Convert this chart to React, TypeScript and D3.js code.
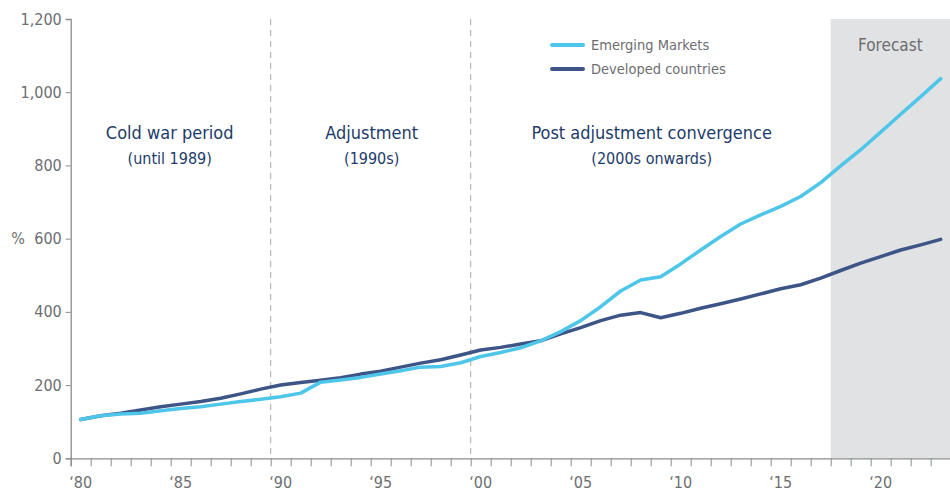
import { useEffect, useRef } from 'react';
import * as d3 from 'd3';

// values (index 100 = 1980)
const years = d3.range(1980, 2024);
const emerging = [
  106, 116, 121, 123, 130, 136, 141, 148, 155, 161,
  168, 178, 208, 214, 221, 230, 239, 249, 251, 261,
  278, 289, 302, 321, 346, 376, 414, 457, 487, 496,
  531, 569, 606, 640, 665, 688, 715, 753, 799, 843,
  891, 940, 988, 1037,
];
const developed = [
  106, 116, 123, 132, 141, 148, 155, 164, 176, 189,
  200, 207, 213, 220, 230, 238, 249, 260, 269, 282,
  296, 303, 312, 321, 340, 357, 376, 391, 398, 384,
  396, 410, 422, 435, 449, 463, 474, 492, 513, 533,
  551, 569, 583, 598,
];
const yTicks = [0, 200, 400, 600, 800, 1000, 1200];
const xLabelYears = [1980, 1985, 1990, 1995, 2000, 2005, 2010, 2015, 2020];
const dividers = [1990, 2000];
const forecastStart = 2018;
const periods = [
  { title: 'Cold war period', sub: '(until 1989)', mid: 1984.95 },
  { title: 'Adjustment', sub: '(1990s)', mid: 1995.05 },
  { title: 'Post adjustment convergence', sub: '(2000s onwards)', mid: 2009.05 },
];
const seriesNames = ['Emerging Markets', 'Developed countries'];

const FONT = "'Liberation Sans Narrow', 'DejaVu Sans Condensed', 'Roboto', sans-serif";
const EM_COLOR = '#4dc6ea';
const DEV_COLOR = '#3d5486';
const GREY = '#6d6e71';
const NAVY = '#1d3b6a';

const App = () => {
  const svgRef = useRef(null);

  useEffect(() => {
    const svg = d3.select(svgRef.current);
    svg.selectAll('*').remove();

    const x = d3.scaleLinear().domain([1980, 2024]).range([70.7, 950.7]);
    const y = d3.scaleLinear().domain([0, 1200]).range([458.3, 19]);

    // forecast shading
    svg.append('rect')
      .attr('x', x(forecastStart))
      .attr('y', y(1200))
      .attr('width', 950 - x(forecastStart))
      .attr('height', y(0) - y(1200))
      .attr('fill', '#e1e2e4');

    svg.append('text')
      .attr('x', (x(forecastStart) + 950) / 2)
      .attr('y', 51)
      .attr('text-anchor', 'middle')
      .attr('font-size', 17)
      .attr('fill', GREY)
      .text('Forecast');

    // period dividers
    dividers.forEach(d => {
      svg.append('line')
        .attr('x1', x(d)).attr('x2', x(d))
        .attr('y1', y(1200)).attr('y2', y(0))
        .attr('stroke', '#a7a9ac')
        .attr('stroke-width', 1)
        .attr('stroke-dasharray', '6,5');
    });

    // period labels
    periods.forEach(p => {
      svg.append('text')
        .attr('x', x(p.mid)).attr('y', 139)
        .attr('text-anchor', 'middle')
        .attr('font-size', 18)
        .attr('fill', NAVY)
        .text(p.title);
      svg.append('text')
        .attr('x', x(p.mid)).attr('y', 164)
        .attr('text-anchor', 'middle')
        .attr('font-size', 16)
        .attr('fill', NAVY)
        .text(p.sub);
    });

    // y axis
    const yAxis = svg.append('g')
      .attr('transform', `translate(${x(1980)},0)`)
      .call(d3.axisLeft(y).tickValues(yTicks).tickSize(5).tickPadding(4).tickFormat(d3.format(',')));
    yAxis.select('.domain').attr('stroke', '#8a8c8e').attr('stroke-width', 1.3);
    yAxis.selectAll('.tick line').attr('stroke', '#8a8c8e');
    yAxis.selectAll('.tick text')
      .attr('font-size', 16).attr('font-family', FONT).attr('fill', GREY);

    svg.append('text')
      .attr('x', 18).attr('y', 244)
      .attr('text-anchor', 'middle')
      .attr('font-size', 16)
      .attr('fill', GREY)
      .text('%');

    // x axis: ticks on year boundaries, labels at year centres
    const xAxis = svg.append('g')
      .attr('transform', `translate(0,${y(0)})`)
      .call(d3.axisBottom(x).tickValues(years).tickSize(8).tickFormat(() => ''));
    xAxis.select('.domain').attr('stroke', '#8a8c8e').attr('stroke-width', 1.3);
    xAxis.selectAll('.tick line').attr('stroke', '#8a8c8e');

    svg.append('g')
      .selectAll('text')
      .data(xLabelYears)
      .enter()
      .append('text')
      .attr('x', d => x(d + 0.5))
      .attr('y', 488)
      .attr('text-anchor', 'middle')
      .attr('font-size', 16)
      .attr('fill', GREY)
      .text(d => '\u2018' + String(d).slice(2));

    // lines
    const line = d3.line()
      .x(d => x(d[0] + 0.5))
      .y(d => y(d[1]));

    [[developed, DEV_COLOR], [emerging, EM_COLOR]].forEach(([vals, color]) => {
      svg.append('path')
        .datum(years.map((yr, i) => [yr, vals[i]]))
        .attr('fill', 'none')
        .attr('stroke', color)
        .attr('stroke-width', 3.5)
        .attr('stroke-linejoin', 'round')
        .attr('stroke-linecap', 'round')
        .attr('d', line);
    });

    // legend
    [EM_COLOR, DEV_COLOR].forEach((color, i) => {
      const ly = 45 + i * 24;
      svg.append('line')
        .attr('x1', 552).attr('x2', 583)
        .attr('y1', ly).attr('y2', ly)
        .attr('stroke', color)
        .attr('stroke-width', 4)
        .attr('stroke-linecap', 'round');
      svg.append('text')
        .attr('x', 591).attr('y', ly + 5)
        .attr('font-size', 14.5)
        .attr('fill', GREY)
        .text(seriesNames[i]);
    });

    return () => {
      d3.select(svgRef.current).selectAll('*').remove();
    };
  }, []);

  return (
    <svg
      ref={svgRef}
      width={950}
      height={494}
      style={{ position: 'absolute', left: 0, top: 0, fontFamily: FONT, background: '#fff' }}
    />
  );
};

export default App;
